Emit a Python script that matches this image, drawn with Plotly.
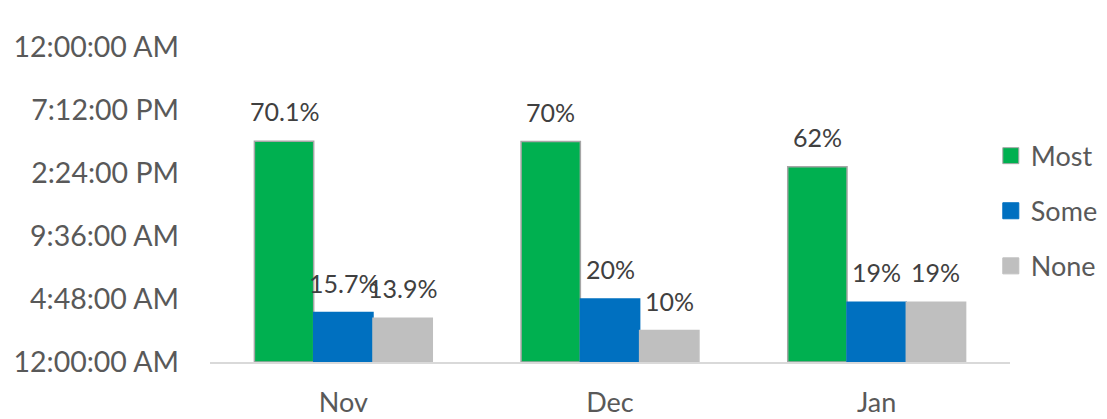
import plotly.graph_objects as go

months = ["Nov", "Dec", "Jan"]
series_names = ["Most", "Some", "None"]
most = [0.701, 0.70, 0.62]
some = [0.157, 0.20, 0.19]
none = [0.139, 0.10, 0.19]
labels_most = ["70.1%", "70%", "62%"]
labels_some = ["15.7%", "20%", "19%"]
labels_none = ["13.9%", "10%", "19%"]
tick_vals = [0, 0.2, 0.4, 0.6, 0.8, 1.0]
tick_text = ["12:00:00 AM", "4:48:00 AM", "9:36:00 AM", "2:24:00 PM", "7:12:00 PM", "12:00:00 AM"]

colors = ["#00B050", "#0070C0", "#BFBFBF"]
outlines = ["#A6A6A6", "#0070C0", "#BFBFBF"]
FONT = "Lato, 'Open Sans', sans-serif"

fig = go.Figure()
all_values = [most, some, none]
all_labels = [labels_most, labels_some, labels_none]
for i, (name, vals) in enumerate(zip(series_names, all_values)):
    fig.add_trace(go.Bar(
        x=months, y=vals, name=name, showlegend=False,
        marker=dict(color=colors[i], line=dict(color=outlines[i], width=1.5)),
    ))
    # legend-only entry so the key squares can be larger than the bar default
    fig.add_trace(go.Scatter(
        x=[None], y=[None], mode="markers", name=name, legendgroup=name,
        marker=dict(symbol="square", size=16, color=colors[i],
                    line=dict(color=outlines[i], width=1)),
    ))

# data labels sit well above each bar, as in the original
bar_px = 59.3
for i, (vals, labs) in enumerate(zip(all_values, all_labels)):
    for m, v, t in zip(months, vals, labs):
        fig.add_annotation(
            x=m, y=v, text=t, showarrow=False, yanchor="middle",
            xshift=(i - 1) * bar_px, yshift=30,
            font=dict(size=25, color="#404040", family=FONT),
        )

fig.update_layout(
    width=1107, height=419,
    paper_bgcolor="white", plot_bgcolor="white",
    margin=dict(l=202, r=102, t=39, b=65),
    barmode="group", bargap=0.333, bargroupgap=0,
    font=dict(family=FONT, color="#595959"),
    legend=dict(
        x=0.976, xanchor="left", y=0.479, yanchor="middle",
        font=dict(size=27, color="#595959"), tracegroupgap=17,
        itemsizing="trace", bgcolor="rgba(0,0,0,0)",
    ),
)
fig.update_xaxes(
    showline=True, linecolor="#D9D9D9", linewidth=2, ticks="", showgrid=False,
    automargin=False, ticklabelstandoff=16,
    tickfont=dict(size=27, color="#595959"),
)
fig.update_yaxes(
    range=[0, 1.0], tickvals=tick_vals, ticktext=tick_text, showgrid=False,
    zeroline=False, showline=False, ticks="", ticklabelstandoff=30,
    automargin=False, tickfont=dict(size=28.5, color="#595959"),
)

fig.write_html("out.html")
